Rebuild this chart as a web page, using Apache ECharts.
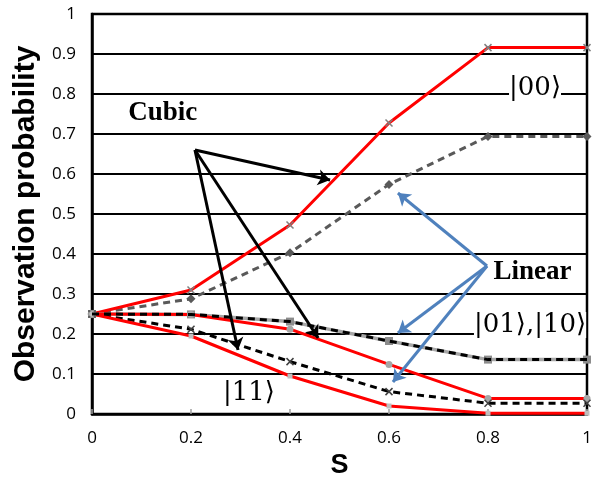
<!DOCTYPE html>
<html><head><meta charset="utf-8">
<script src="https://cdn.jsdelivr.net/npm/echarts@6/dist/echarts.min.js"></script>
<style>html,body{margin:0;padding:0;background:#fff}#c{width:608px;height:477px}</style>
</head><body><div id="c"></div>
<script>
const sValues = [0, 0.2, 0.4, 0.6, 0.8, 1];
const cubic00 = [0.25, 0.31, 0.4725, 0.7275, 0.916, 0.916];
const linear00 = [0.25, 0.288, 0.403, 0.574, 0.694, 0.694];
const cubic01 = [0.25, 0.249, 0.212, 0.124, 0.039, 0.039];
const linear01 = [0.25, 0.249, 0.231, 0.1825, 0.136, 0.136];
const cubic11 = [0.25, 0.195, 0.095, 0.02, 0.002, 0.002];
const linear11 = [0.25, 0.212, 0.131, 0.056, 0.027, 0.027];
const xTickLabels = ['0', '0.2', '0.4', '0.6', '0.8', '1'];
const yTickLabels = ['0', '0.1', '0.2', '0.3', '0.4', '0.5', '0.6', '0.7', '0.8', '0.9', '1'];

const cubicArrows = [[[0.208, 0.66], [0.481, 0.585]], [[0.208, 0.66], [0.295, 0.16]], [[0.208, 0.66], [0.457, 0.19]]];
const linearArrows = [[[0.798, 0.37], [0.618, 0.5525]], [[0.798, 0.37], [0.618, 0.2025]], [[0.798, 0.37], [0.608, 0.08]]];
const textLabels = [
  {text: 'Cubic', at: [0.143, 0.7525], kind: 'bold'},
  {text: 'Linear', at: [0.89, 0.355], kind: 'bold'},
  {text: '|00⟩', at: [0.895, 0.815], kind: 'ket'},
  {text: '|01⟩,|10⟩', at: [0.885, 0.2225], kind: 'ket'},
  {text: '|11⟩', at: [0.317, 0.0525], kind: 'ket'}
];

const pair = a => sValues.map((s, i) => [s, a[i]]);
const X = 'path://M0,0L10,10M10,0L0,10';

function line(name, data, color, width, type, symbol, symColor, symSize, z) {
  return {
    name, type: 'line', data: pair(data), z: z || 2,
    lineStyle: {color, width, type},
    symbol, symbolSize: symSize,
    itemStyle: {color: symColor, borderColor: symColor, borderWidth: symbol === X ? 1.5 : 0},
    emphasis: {disabled: true}, animation: false
  };
}

const series = [
  line('00 linear', linear00, '#595959', 3, [7, 5], 'diamond', '#595959', 9),
  line('00 cubic', cubic00, '#ff0000', 3, 'solid', X, '#808080', 7),
  line('01 base', linear01, '#a6a6a6', 3.5, 'solid', 'rect', '#8c8c8c', 8, 2),
  line('01 linear', linear01, '#000000', 3, [7, 5], 'none', '#000', 0, 3),
  line('01 cubic', cubic01, '#ff0000', 3, 'solid', 'circle', '#a6a6a6', 7),
  line('11 linear', linear11, '#000000', 3, [7, 5], X, '#404040', 7),
  line('11 cubic', cubic11, '#ff0000', 3, 'solid', 'rect', '#bfbfbf', 5)
];

function arrowSeries(arrows, color) {
  return {
    type: 'line', data: [], z: 10, animation: false, silent: true,
    markLine: {
      silent: true, animation: false, symbol: ['none', 'arrow'], symbolSize: 12,
      label: {show: false},
      lineStyle: {color, width: 3, type: 'solid'},
      itemStyle: {color},
      data: arrows.map(a => [{coord: a[0]}, {coord: a[1]}])
    }
  };
}
series.push(arrowSeries(cubicArrows, '#000000'));
series.push(arrowSeries(linearArrows, '#4f81bd'));

series.push({
  type: 'line', data: [], z: 11, animation: false, silent: true,
  markPoint: {
    silent: true, animation: false, symbol: 'circle', symbolSize: 0,
    data: textLabels.map(t => ({
      coord: t.at,
      label: {
        show: true, position: 'inside', formatter: t.text, color: '#000',
        fontFamily: t.kind === 'bold' ? 'Liberation Serif' : 'DejaVu Serif',
        fontWeight: t.kind === 'bold' ? 'bold' : 'normal',
        fontSize: t.kind === 'bold' ? 27 : 26,
        backgroundColor: t.kind === 'ket' ? '#fff' : 'transparent'
      }
    }))
  }
});

const chart = echarts.init(document.getElementById('c'), null, {renderer: 'canvas'});
chart.setOption({
  animation: false,
  backgroundColor: '#fff',
  grid: {left: 92, right: 21, top: 14, bottom: 63, show: true, borderColor: '#000', borderWidth: 2.5,
    containLabel: false, outerBoundsMode: 'none'},
  xAxis: {
    type: 'value', min: 0, max: 1, interval: 0.2,
    name: 'S', nameLocation: 'middle', nameGap: 38,
    nameTextStyle: {fontFamily: 'Liberation Sans', fontWeight: 'bold', fontSize: 27, color: '#000'},
    axisLine: {show: true, lineStyle: {color: '#000', width: 2.5}},
    axisTick: {show: true, inside: true, length: 5, lineStyle: {color: '#a0a0a0', width: 1.5}},
    splitLine: {show: false},
    axisLabel: {fontFamily: 'Open Sans', fontSize: 17, color: '#000', margin: 16,
      formatter: v => xTickLabels[Math.round(v / 0.2)]}
  },
  yAxis: {
    type: 'value', min: 0, max: 1, interval: 0.1,
    name: 'Observation probability', nameLocation: 'middle', nameGap: 50,
    nameTextStyle: {fontFamily: 'Liberation Sans', fontWeight: 'bold', fontSize: 30, color: '#000'},
    axisLine: {show: true, lineStyle: {color: '#000', width: 2.5}},
    axisTick: {show: false},
    splitLine: {show: true, lineStyle: {color: '#000', width: 1.8}},
    axisLabel: {fontFamily: 'Open Sans', fontSize: 17, color: '#000', margin: 16,
      formatter: v => yTickLabels[Math.round(v * 10)]}
  },
  series
});
</script></body></html>
